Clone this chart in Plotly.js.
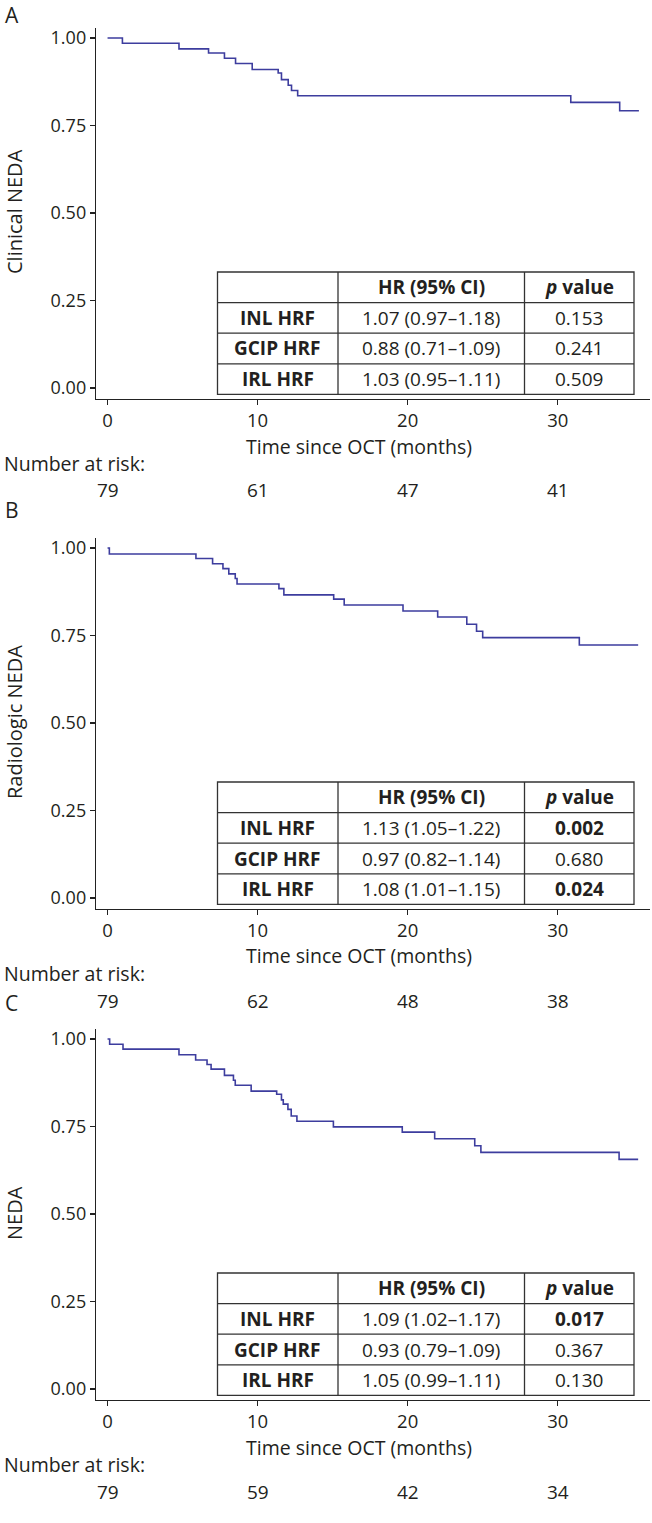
<!DOCTYPE html>
<html>
<head>
<meta charset="utf-8">
<script src="https://cdn.plot.ly/plotly-3.0.1.min.js"></script>
<style>
html,body{margin:0;padding:0;background:#fff;}
#chart{width:652px;height:1523px;}
</style>
</head>
<body>
<div id="chart"></div>
<script>
// ---------------- DATA ----------------
var panelLetters = ["A", "B", "C"];
var yTitles = ["Clinical NEDA", "Radiologic NEDA", "NEDA"];
var xTitle = "Time since OCT (months)";
var xTickVals = [0, 10, 20, 30];
var yTickVals = [0, 0.25, 0.5, 0.75, 1];
var yTickText = ["0.00", "0.25", "0.50", "0.75", "1.00"];

// Kaplan-Meier steps (months, survival)
var timeA = [0, 0.99, 4.76, 6.73, 7.79, 8.53, 9.64, 11.37, 11.59, 12.04, 12.26, 12.67, 30.87, 34.13, 35.41];
var survA = [1.000, 0.985, 0.969, 0.957, 0.942, 0.927, 0.910, 0.900, 0.881, 0.865, 0.850, 0.835, 0.816, 0.792, 0.792];

var timeB = [0, 0.12, 5.89, 7.00, 7.69, 8.08, 8.51, 8.63, 11.42, 11.75, 15.07, 15.77, 19.69, 22.00, 23.94, 24.59, 25.00, 31.44, 35.36];
var survB = [1.000, 0.983, 0.970, 0.955, 0.941, 0.926, 0.913, 0.897, 0.884, 0.866, 0.854, 0.837, 0.820, 0.803, 0.782, 0.762, 0.744, 0.723, 0.723];

var timeC = [0, 0.14, 1.03, 4.76, 5.87, 6.63, 6.90, 7.79, 8.39, 8.51, 9.57, 11.27, 11.59, 11.71, 12.02, 12.24, 12.62, 15.05, 19.64, 21.80, 24.47, 24.88, 34.09, 35.36];
var survC = [1.000, 0.985, 0.971, 0.955, 0.940, 0.927, 0.914, 0.896, 0.882, 0.868, 0.851, 0.842, 0.826, 0.814, 0.799, 0.780, 0.765, 0.749, 0.734, 0.715, 0.695, 0.676, 0.656, 0.656];

// Hazard ratio tables
var tableHeader = ["", "HR (95% CI)", "p value"];
var rowLabels = ["INL HRF", "GCIP HRF", "IRL HRF"];
var hrA = ["1.07 (0.97–1.18)", "0.88 (0.71–1.09)", "1.03 (0.95–1.11)"];
var pA = ["0.153", "0.241", "0.509"];
var sigA = [false, false, false];
var hrB = ["1.13 (1.05–1.22)", "0.97 (0.82–1.14)", "1.08 (1.01–1.15)"];
var pB = ["0.002", "0.680", "0.024"];
var sigB = [true, false, true];
var hrC = ["1.09 (1.02–1.17)", "0.93 (0.79–1.09)", "1.05 (0.99–1.11)"];
var pC = ["0.017", "0.367", "0.130"];
var sigC = [true, false, false];

// Number at risk at 0, 10, 20, 30 months
var riskLabel = "Number at risk:";
var riskA = [79, 61, 47, 41];
var riskB = [79, 62, 48, 38];
var riskC = [79, 59, 42, 34];

// ---------------- LAYOUT HELPERS ----------------
var W = 652, H = 1523;
var FONT = "Open Sans, Noto Sans, sans-serif";
var TXT = "#231f20";
var LINE = "#3d3d9e";
var panelOffsets = [0, 510, 1001];
var letterY = [15, 510, 1003];
function px(x) { return x / W; }
function py(y) { return 1 - y / H; }

var panels = [
  {t: timeA, s: survA, hr: hrA, p: pA, sig: sigA, risk: riskA},
  {t: timeB, s: survB, hr: hrB, p: pB, sig: sigB, risk: riskB},
  {t: timeC, s: survC, hr: hrC, p: pC, sig: sigC, risk: riskC}
];

var data = [];
var layout = {
  width: W, height: H,
  margin: {l: 0, r: 0, t: 0, b: 0},
  paper_bgcolor: "#fff", plot_bgcolor: "#fff",
  showlegend: false,
  font: {family: FONT, color: TXT, size: 18},
  shapes: [], annotations: []
};

var yTopPx = 27.5, yBotPx = 398.5; // panel A plot area (px)
var xLeftPx = 96, xRightPx = 650;

panels.forEach(function (P, i) {
  var off = panelOffsets[i];
  var sfx = i === 0 ? "" : String(i + 1);
  var xa = "x" + sfx, ya = "y" + sfx;
  data.push({
    x: P.t, y: P.s, type: "scatter", mode: "lines",
    line: {shape: "hv", color: LINE, width: 1.6},
    xaxis: xa, yaxis: ya, hoverinfo: "skip"
  });
  var top = yTopPx + off, bot = yBotPx + off;
  layout["xaxis" + sfx] = {
    domain: [px(xLeftPx), px(xRightPx)], anchor: ya,
    range: [-0.77, 36.15], tickvals: xTickVals,
    ticks: "outside", ticklen: 5, tickwidth: 1.2, tickcolor: "#222",
    showline: true, linecolor: "#222", linewidth: 1.2,
    showgrid: false, zeroline: false,
    tickfont: {size: 18.5, family: FONT, color: TXT}, fixedrange: true
  };
  layout["yaxis" + sfx] = {
    domain: [py(bot), py(top)], anchor: xa,
    range: [-0.03, 1.03], tickvals: yTickVals, ticktext: yTickText,
    ticks: "outside", ticklen: 5, tickwidth: 1.2, tickcolor: "#222",
    showline: true, linecolor: "#222", linewidth: 1.2,
    showgrid: false, zeroline: false,
    tickfont: {size: 18, family: FONT, color: TXT}, fixedrange: true
  };

  // Panel letter
  layout.annotations.push({xref: "paper", yref: "paper", x: px(3), y: py(letterY[i]),
    xanchor: "left", yanchor: "middle", text: panelLetters[i], showarrow: false,
    font: {size: 21, family: FONT, color: TXT}});
  // Y title
  layout.annotations.push({xref: "paper", yref: "paper", x: px(14), y: py(212 + off),
    xanchor: "center", yanchor: "middle", text: yTitles[i], textangle: -90, showarrow: false,
    font: {size: 20, family: FONT, color: TXT}});
  // X title
  layout.annotations.push({xref: "paper", yref: "paper", x: px(359), y: py(446 + off),
    xanchor: "center", yanchor: "middle", text: xTitle, showarrow: false,
    font: {size: 19.5, family: FONT, color: TXT}});
  // Number at risk
  layout.annotations.push({xref: "paper", yref: "paper", x: px(2), y: py(463.5 + off),
    xanchor: "left", yanchor: "middle", text: riskLabel, showarrow: false,
    font: {size: 19.5, family: FONT, color: TXT}});
  P.risk.forEach(function (n, k) {
    layout.annotations.push({xref: xa, yref: "paper", x: xTickVals[k], y: py(490.5 + off),
      xanchor: "center", yanchor: "middle", text: String(n), showarrow: false,
      font: {size: 19, family: FONT, color: TXT}});
  });

  // Table
  var cols = [217.5, 338, 524.5, 634];
  var tTop = 272 + off, rh = 30.6;
  var tBot = tTop + 4 * rh;
  var lc = {color: "#333", width: 1.3};
  layout.shapes.push({type: "rect", xref: "paper", yref: "paper",
    x0: px(cols[0]), x1: px(cols[3]), y0: py(tBot), y1: py(tTop),
    line: lc, fillcolor: "#fff", layer: "above"});
  for (var r = 1; r < 4; r++) {
    layout.shapes.push({type: "line", xref: "paper", yref: "paper",
      x0: px(cols[0]), x1: px(cols[3]), y0: py(tTop + r * rh), y1: py(tTop + r * rh), line: lc});
  }
  for (var c = 1; c < 3; c++) {
    layout.shapes.push({type: "line", xref: "paper", yref: "paper",
      x0: px(cols[c]), x1: px(cols[c]), y0: py(tBot), y1: py(tTop), line: lc});
  }
  function cell(col, row, txt) {
    layout.annotations.push({xref: "paper", yref: "paper",
      x: px((cols[col] + cols[col + 1]) / 2), y: py(tTop + (row + 0.5) * rh),
      xanchor: "center", yanchor: "middle", text: txt, showarrow: false,
      font: {size: 19, family: FONT, color: TXT}});
  }
  cell(1, 0, "<b>" + tableHeader[1] + "</b>");
  cell(2, 0, "<b><i>p</i> value</b>");
  for (var rr = 0; rr < 3; rr++) {
    cell(0, rr + 1, "<b>" + rowLabels[rr] + "</b>");
    cell(1, rr + 1, P.hr[rr]);
    cell(2, rr + 1, P.sig[rr] ? "<b>" + P.p[rr] + "</b>" : P.p[rr]);
  }
});

Plotly.newPlot("chart", data, layout, {staticPlot: true, displayModeBar: false});
</script>
</body>
</html>
